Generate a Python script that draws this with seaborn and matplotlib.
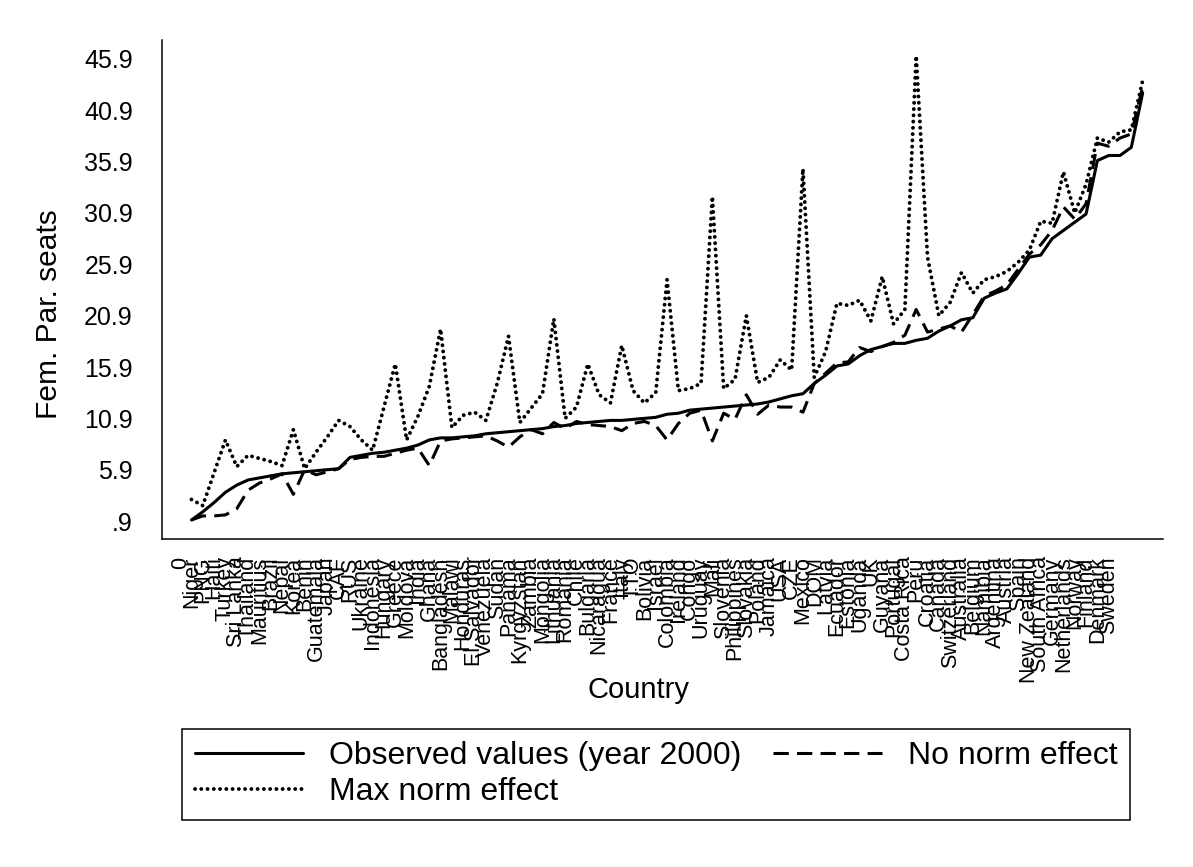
import numpy as np
import pandas as pd
import matplotlib
matplotlib.use("Agg")
import matplotlib.pyplot as plt
import seaborn as sns

# country labels on the x axis (position 0 is shown as "0")
tick_labels = [
    "0", "Niger", "PNG", "Haiti", "Turkey", "Sri Lanka", "Thailand", "Mauritius",
    "Brazil", "Nepal", "Korea", "Benin", "Guatemala", "Japan", "CAF", "RUS",
    "Ukraine", "Indonesia", "Hungary", "Greece", "Moldova", "India", "Ghana",
    "Bangladesh", "Malawi", "Honduras", "El Salvador", "Venezuela", "Sudan",
    "Panama", "Kyrgyzstan", "Zambia", "Mongolia", "Lithuania", "Romania", "Chile",
    "Bulgaria", "Nicaragua", "France", "Italy", "TTO", "Bolivia", "Israel",
    "Colombia", "Ireland", "Congo", "Uruguay", "Mali", "Slovenia", "Philippines",
    "Slovakia", "Poland", "Jamaica", "USA", "CZE", "Mexico", "DOM", "Latvia",
    "Ecuador", "Estonia", "Uganda", "UK", "Guyana", "Portugal", "Costa Rica",
    "Peru", "Croatia", "Canada", "Switzerland", "Australia", "Belgium", "Namibia",
    "Argentina", "Austria", "Spain", "New Zealand", "South Africa", "Germany",
    "Netherlands", "Norway", "Finland", "Denmark", "Sweden",
]

observed = [
    1.0, 1.8, 2.7, 3.7, 4.4, 4.9, 5.1, 5.3, 5.5, 5.6,
    5.7, 5.8, 5.9, 6.0, 7.1, 7.3, 7.5, 7.6, 7.8, 8.0,
    8.3, 8.8, 9.0, 9.0, 9.1, 9.2, 9.4, 9.5, 9.6, 9.7,
    9.8, 9.9, 10.1, 10.2, 10.4, 10.5, 10.6, 10.7, 10.7, 10.8,
    10.9, 11.0, 11.3, 11.4, 11.7, 11.8, 11.9, 12.0, 12.1, 12.2,
    12.3, 12.5, 12.8, 13.1, 13.3, 14.3, 15.1, 16.0, 16.2, 17.0,
    17.6, 17.9, 18.2, 18.2, 18.5, 18.7, 19.4, 19.9, 20.5, 20.7,
    22.6, 23.1, 23.5, 25.0, 26.6, 26.8, 28.4, 29.2, 30.0, 30.8,
    36.0, 36.5, 36.5, 37.3, 42.6,
]

no_norm = [
    1.0, 1.4, 1.4, 1.5, 2.1, 3.9, 4.6, 5.0, 5.5, 3.5,
    5.9, 5.4, 5.7, 6.0, 6.9, 7.1, 7.2, 7.2, 7.5, 7.8,
    8.0, 6.3, 8.7, 8.9, 9.0, 9.1, 9.2, 8.7, 8.1, 9.1,
    9.8, 9.4, 10.5, 9.9, 10.6, 10.3, 10.2, 10.1, 9.7, 10.4,
    10.6, 10.2, 8.8, 10.4, 11.4, 11.7, 8.7, 11.4, 10.8, 13.2,
    11.3, 12.2, 12.0, 12.0, 11.5, 14.3, 15.3, 16.3, 16.4, 17.8,
    17.4, 17.9, 18.3, 19.0, 21.5, 19.3, 19.6, 19.9, 19.3, 21.0,
    22.8, 23.3, 23.9, 25.4, 26.9, 27.8, 29.2, 31.5, 30.3, 31.8,
    37.7, 37.4, 38.2, 38.6, 43.2,
]

max_norm = [
    3.0, 2.4, 5.6, 8.8, 6.2, 7.3, 7.0, 6.7, 6.3, 9.8,
    6.0, 7.6, 9.1, 10.7, 10.1, 8.8, 7.8, 12.0, 16.2, 8.8,
    11.1, 14.0, 19.6, 10.0, 11.2, 11.5, 10.7, 14.3, 18.9, 10.5,
    11.9, 13.3, 20.6, 10.9, 12.0, 16.2, 13.2, 12.4, 18.0, 13.6,
    12.4, 13.4, 24.4, 13.6, 13.8, 14.3, 32.5, 13.8, 14.7, 20.9,
    14.4, 14.9, 16.6, 15.6, 35.2, 14.9, 17.4, 22.1, 21.9, 22.4,
    20.4, 24.7, 20.1, 21.5, 46.2, 26.6, 20.9, 22.2, 25.1, 23.1,
    24.4, 24.7, 25.2, 26.1, 27.3, 30.1, 29.9, 34.9, 30.9, 33.7,
    38.2, 37.8, 38.8, 39.0, 43.8,
]

country_pos = list(range(1, len(observed) + 1))

y_ticks = [0.9, 5.9, 10.9, 15.9, 20.9, 25.9, 30.9, 35.9, 40.9, 45.9]
y_tick_labels = [".9", "5.9", "10.9", "15.9", "20.9", "25.9", "30.9", "35.9", "40.9", "45.9"]

df = pd.DataFrame({"pos": country_pos, "observed": observed,
                   "no_norm": no_norm, "max_norm": max_norm})

sns.set_style("white")
plt.rcParams["font.family"] = ["Liberation Sans", "DejaVu Sans"]
plt.rcParams["text.color"] = "black"
plt.rcParams["axes.labelcolor"] = "black"
plt.rcParams["xtick.color"] = "black"
plt.rcParams["ytick.color"] = "black"

fig = plt.figure(figsize=(11.93, 8.67), dpi=100)
ax = fig.add_axes([0.1358, 0.3783, 0.8391, 0.5756])

sns.lineplot(data=df, x="pos", y="observed", ax=ax, color="black", lw=2.2,
             estimator=None, label="Observed values (year 2000)")
sns.lineplot(data=df, x="pos", y="no_norm", ax=ax, color="black", lw=2.2,
             linestyle=(0, (5.0, 2.7)), estimator=None, label="No norm effect")
sns.lineplot(data=df, x="pos", y="max_norm", ax=ax, color="black", lw=2.8,
             linestyle=(0, (0.01, 1.6)), dash_capstyle="round",
             estimator=None, label="Max norm effect")

ax.set_xlim(-1.6, 86.8)
ax.set_ylim(-0.85, 47.75)
ax.set_xticks(range(len(tick_labels)))
ax.set_xticklabels(tick_labels, rotation=90, fontsize=15.5)
ax.set_yticks(y_ticks)
ax.set_yticklabels(y_tick_labels, fontsize=18)
ax.tick_params(axis="x", direction="out", length=9.5, width=1.1, pad=3)
ax.tick_params(axis="y", direction="out", length=9, width=1.1, pad=12)
ax.set_xlabel("Country", fontsize=21)
ax.set_ylabel("Fem. Par. seats", fontsize=21.5)
ax.xaxis.set_label_coords(0.4755, -0.275)
ax.yaxis.set_label_coords(-0.099, 0.45)

for side in ["top", "right"]:
    ax.spines[side].set_visible(False)
for side in ["left", "bottom"]:
    ax.spines[side].set_color("black")
    ax.spines[side].set_linewidth(1.1)

handles, labels = ax.get_legend_handles_labels()
ax.get_legend().remove()
order = [0, 2, 1]
leg = fig.legend([handles[i] for i in order], [labels[i] for i in order],
                 loc="lower left", ncol=2,
                 bbox_to_anchor=(182 / 1193, 1 - 820 / 867, (1130 - 182) / 1193, 87 / 867),
                 mode="expand", fontsize=23, frameon=True, fancybox=False,
                 edgecolor="black", framealpha=1, handlelength=3.4,
                 handletextpad=0.8, columnspacing=0.8, labelspacing=0.18,
                 borderpad=0.4, borderaxespad=0)
leg.get_frame().set_linewidth(1.1)

fig.savefig("out.png", dpi=100, facecolor="white")
